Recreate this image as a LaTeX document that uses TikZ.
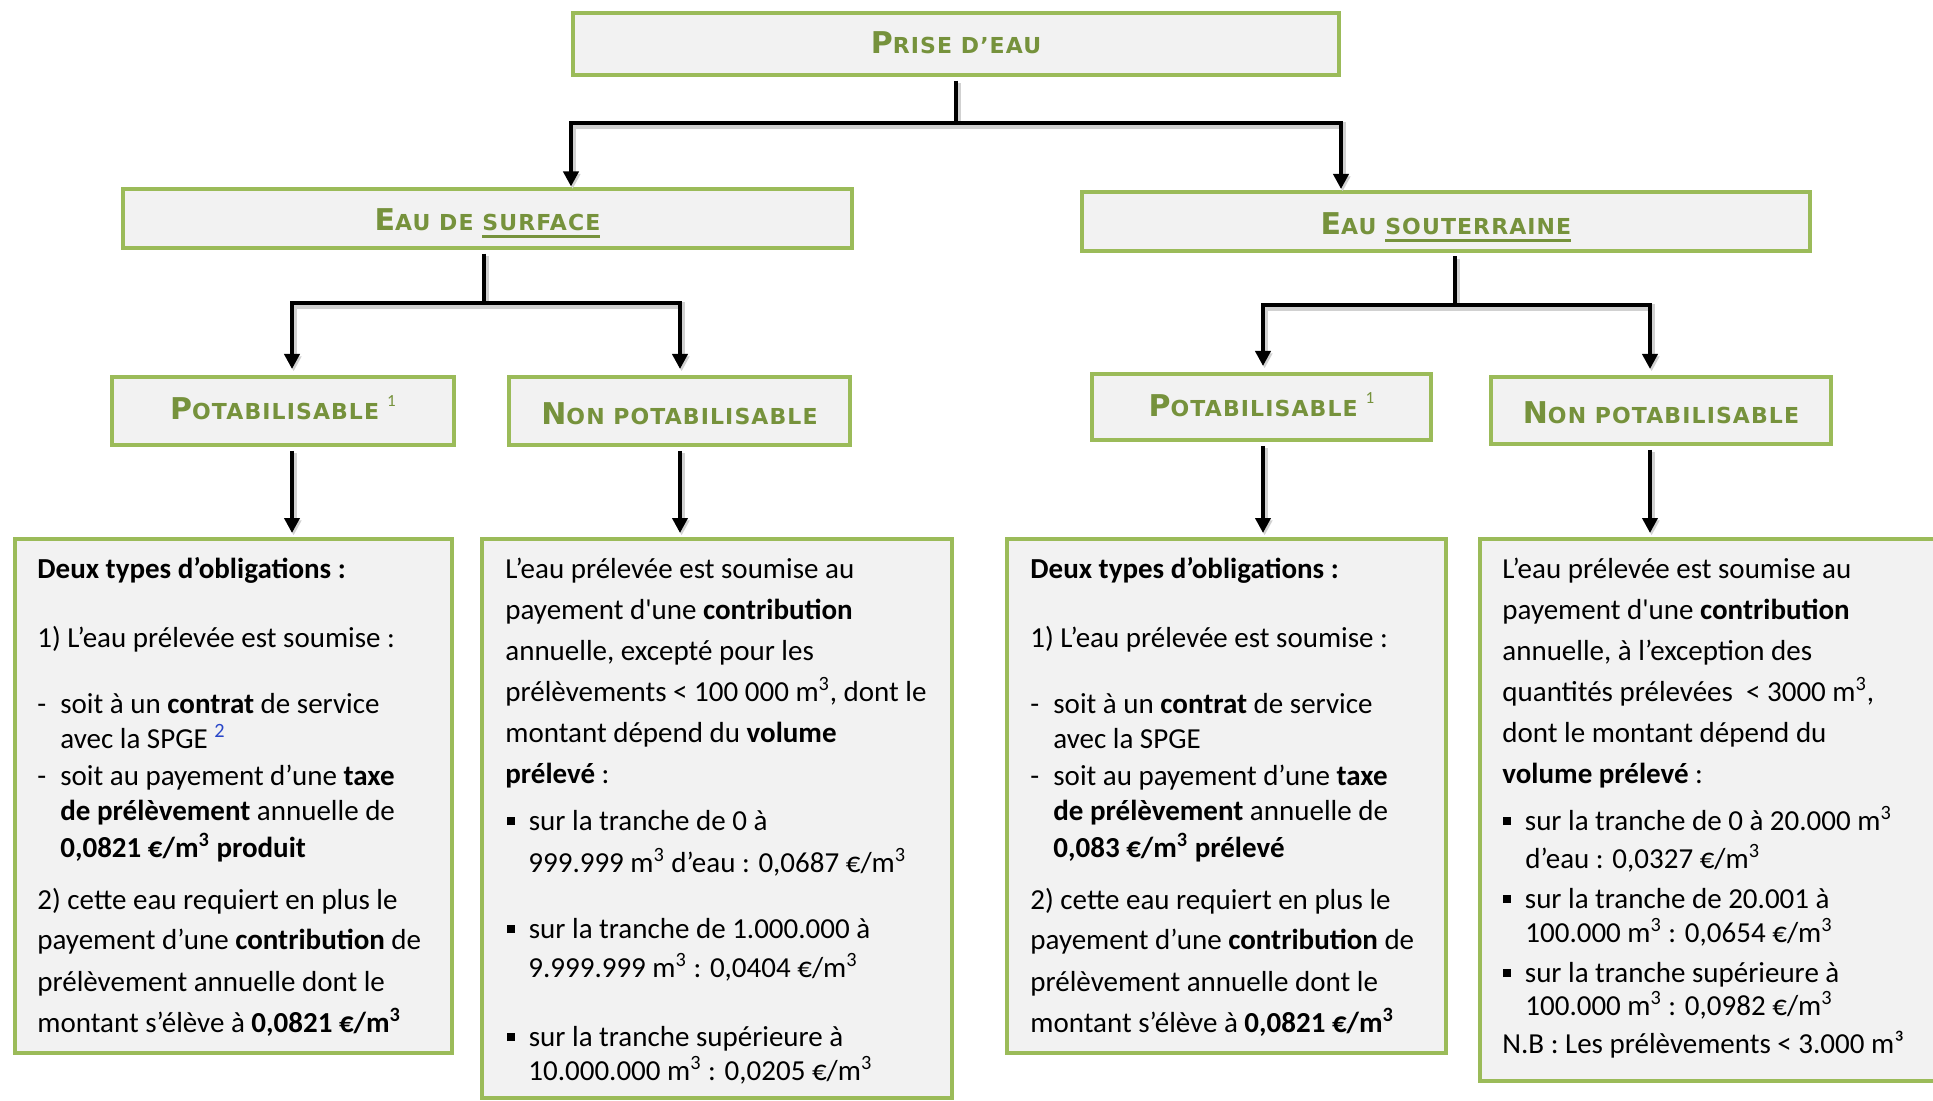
\documentclass[tikz,border=0pt]{standalone}
\usepackage{fontspec}
\setmainfont{Carlito}
\newfontfamily\hdfont{DejaVu Sans}[LetterSpace=5]
\usetikzlibrary{arrows.meta}
\definecolor{bord}{RGB}{155,187,89}
\definecolor{hd}{RGB}{118,146,60}
\definecolor{boxfill}{RGB}{242,242,242}
\definecolor{fnblue}{RGB}{40,70,200}
\newcommand\bodyf{\fontsize{14.5pt}{17pt}\selectfont}
\newcommand\hsc[2]{{\fontsize{15pt}{16pt}\selectfont #1}{\fontsize{11pt}{13pt}\selectfont #2}}
\newcommand\ulw[1]{\setbox0\hbox{#1}\rlap{\rule[-3.5pt]{\wd0}{1.5pt}}\box0}
\newcommand\fnone{\hspace{4pt}\raisebox{6.5pt}{\rmfamily\mdseries\fontsize{8.5pt}{9pt}\selectfont 1}}
\newcommand\cub{\textsuperscript{3}}
\newcommand\bul{\makebox[10.75pt][l]{\raisebox{2.5pt}{\rule{4pt}{4pt}}}}
\newcommand\dsh{\makebox[11.5pt][l]{-}}
\begin{document}
\begin{tikzpicture}[x=0.5pt,y=-0.5pt,
  bx/.style 2 args={draw=bord, line width=2pt, fill=boxfill, minimum width=#1*0.5pt,
    minimum height=#2*0.5pt, inner sep=0pt, text depth=0pt, font=\hdfont\bfseries, text=hd},
  bbx/.style 2 args={draw=bord, line width=2pt, fill=boxfill, minimum width=#1*0.5pt,
    minimum height=#2*0.5pt, inner sep=0pt},
  txt/.style={anchor=base west, inner sep=0pt, font=\bodyf, text=black},
  arr/.style={draw=black, line width=2.25pt, line join=miter, -{Triangle[length=7.5pt,width=7.5pt]},
    preaction={draw=black!18, line width=3.2pt, transform canvas={xshift=0.8pt, yshift=-1.2pt}}}]
\clip (0,0) rectangle (1933,1101);
\fill[white] (0,0) rectangle (1933,1101);

% heading boxes
\node[bx={766}{62}, text height=8.8pt] (top) at (956,44.5) {\hsc{P}{RISE D’EAU}};
\node[bx={729}{59}, text height=11.7pt] (surf) at (487.5,219) {\hsc{E}{AU DE \ulw{SURFACE}}};
\node[bx={728}{59}, text height=13.5pt] (sout) at (1446,221.5) {\hsc{E}{AU \ulw{SOUTERRAINE}}};
\node[bx={342}{68}, text height=9pt] (potL) at (283,411) {\hsc{P}{OTABILISABLE}\fnone};
\node[bx={341}{68}, text height=14pt] (nonpotL) at (679.5,411) {\hsc{N}{ON POTABILISABLE}};
\node[bx={339}{66}, text height=9.7pt] (potR) at (1261.5,407) {\hsc{P}{OTABILISABLE}\fnone};
\node[bx={340}{67}, text height=13.5pt] (nonpotR) at (1661,410.5) {\hsc{N}{ON POTABILISABLE}};

% content boxes
\node[bbx={437}{514}] (box1) at (233.5,796) {};
\node[bbx={470}{559}] (box2) at (717,818.5) {};
\node[bbx={439}{514}] (box3) at (1226.5,796) {};
\node[bbx={480}{542}] (box4) at (1720,810) {};

% junction coordinates
\coordinate (j0) at (956,123);
\coordinate (cL0) at (484,303);
\coordinate (cL1) at (292,303);
\coordinate (cL2) at (680,303);
\coordinate (cR0) at (1455,305);
\coordinate (cR1) at (1263,305);
\coordinate (cR2) at (1650,305);

% connectors
\draw[arr, shorten <=1.75pt, shorten >=0.5pt] (top.south) |- (top.west |- j0) -- (top.west |- surf.north);
\draw[arr, shorten <=1.75pt, shorten >=0.5pt] (top.south) |- (top.east |- j0) -- (top.east |- sout.north);
\draw[arr, shorten <=1.75pt, shorten >=3pt] (surf.south -| cL0) |- (cL1) -- (cL1 |- potL.north);
\draw[arr, shorten <=1.75pt, shorten >=3pt] (surf.south -| cL0) |- (cL2) -- (cL2 |- nonpotL.north);
\draw[arr, shorten <=1.75pt, shorten >=3pt] (sout.south -| cR0) |- (cR1) -- (cR1 |- potR.north);
\draw[arr, shorten <=1.75pt, shorten >=3pt] (sout.south -| cR0) |- (cR2) -- (cR2 |- nonpotR.north);
\draw[arr, shorten <=2pt, shorten >=2pt] (cL1 |- potL.south) -- (cL1 |- box1.north);
\draw[arr, shorten <=2pt, shorten >=2pt] (cL2 |- nonpotL.south) -- (cL2 |- box2.north);
\draw[arr, shorten <=2pt, shorten >=2pt] (cR1 |- potR.south) -- (cR1 |- box3.north);
\draw[arr, shorten <=2pt, shorten >=2pt] (cR2 |- nonpotR.south) -- (cR2 |- box4.north);

% box 1 text
\node[txt] (a1) at (37,578) {\textbf{Deux types d’obligations :}};
\node[txt] (a2) at (37,647) {1) L’eau prélevée est soumise :};
\node[txt] (a3) at (37,713) {\dsh soit à un \textbf{contrat} de service};
\node[txt] (a4) at (60,748) {avec la SPGE \textsuperscript{\color{fnblue}2}};
\node[txt] (a5) at (37,785) {\dsh soit au payement d’une \textbf{taxe}};
\node[txt] (a6) at (60,820) {\textbf{de prélèvement} annuelle de};
\node[txt] (a7) at (60,857) {\textbf{0,0821 €/m\cub{} produit}};
\node[txt] (a8) at (37,909) {2) cette eau requiert en plus le};
\node[txt] (a9) at (37,949) {payement d’une \textbf{contribution} de};
\node[txt] (a10) at (37,991) {prélèvement annuelle dont le};
\node[txt] (a11) at (37,1032) {montant s’élève à \textbf{0,0821 €/m\cub}};

% box 2 text
\node[txt] (c1) at (505,578) {L’eau prélevée est soumise au};
\node[txt] (c2) at (505,619) {payement d\textquotesingle une \textbf{contribution}};
\node[txt] (c3) at (505,660) {annuelle, excepté pour les};
\node[txt] (c4) at (505,701) {prélèvements < 100 000 m\cub, dont le};
\node[txt] (c5) at (505,742) {montant dépend du \textbf{volume}};
\node[txt] (c6) at (505,783) {\textbf{prélevé} :};
\node[txt] (c7) at (507,830) {\bul sur la tranche de 0 à};
\node[txt] (c8) at (528,872) {999.999 m\cub{} d’eau : 0,0687 €/m\cub};
\node[txt] (c9) at (507,938) {\bul sur la tranche de 1.000.000 à};
\node[txt] (c10) at (528,977) {9.999.999 m\cub{} : 0,0404 €/m\cub};
\node[txt] (c11) at (507,1046) {\bul sur la tranche supérieure à};
\node[txt] (c12) at (528,1080) {10.000.000 m\cub{} : 0,0205 €/m\cub};

% box 3 text
\node[txt] (e1) at (1030,578) {\textbf{Deux types d’obligations :}};
\node[txt] (e2) at (1030,647) {1) L’eau prélevée est soumise :};
\node[txt] (e3) at (1030,713) {\dsh soit à un \textbf{contrat} de service};
\node[txt] (e4) at (1053,748) {avec la SPGE};
\node[txt] (e5) at (1030,785) {\dsh soit au payement d’une \textbf{taxe}};
\node[txt] (e6) at (1053,820) {\textbf{de prélèvement} annuelle de};
\node[txt] (e7) at (1053,857) {\textbf{0,083 €/m\cub{} prélevé}};
\node[txt] (e8) at (1030,909) {2) cette eau requiert en plus le};
\node[txt] (e9) at (1030,949) {payement d’une \textbf{contribution} de};
\node[txt] (e10) at (1030,991) {prélèvement annuelle dont le};
\node[txt] (e11) at (1030,1032) {montant s’élève à \textbf{0,0821 €/m\cub}};

% box 4 text
\node[txt] (d1) at (1502,578) {L’eau prélevée est soumise au};
\node[txt] (d2) at (1502,619) {payement d\textquotesingle une \textbf{contribution}};
\node[txt] (d3) at (1502,660) {annuelle, à l’exception des};
\node[txt] (d4) at (1502,701) {quantités prélevées~ < 3000 m\cub,};
\node[txt] (d5) at (1502,742) {dont le montant dépend du};
\node[txt] (d6) at (1502,783) {\textbf{volume prélevé} :};
\node[txt] (d7) at (1503,830) {\bul sur la tranche de 0 à 20.000 m\cub};
\node[txt] (d8) at (1525,868) {d’eau : 0,0327 €/m\cub};
\node[txt] (d9) at (1503,908) {\bul sur la tranche de 20.001 à};
\node[txt] (d10) at (1525,942) {100.000 m\cub{} : 0,0654 €/m\cub};
\node[txt] (d11) at (1503,982) {\bul sur la tranche supérieure à};
\node[txt] (d12) at (1525,1015) {100.000 m\cub{} : 0,0982 €/m\cub};
\node[txt] (d13) at (1502,1053) {N.B : Les prélèvements < 3.000 m³};
\end{tikzpicture}
\end{document}
